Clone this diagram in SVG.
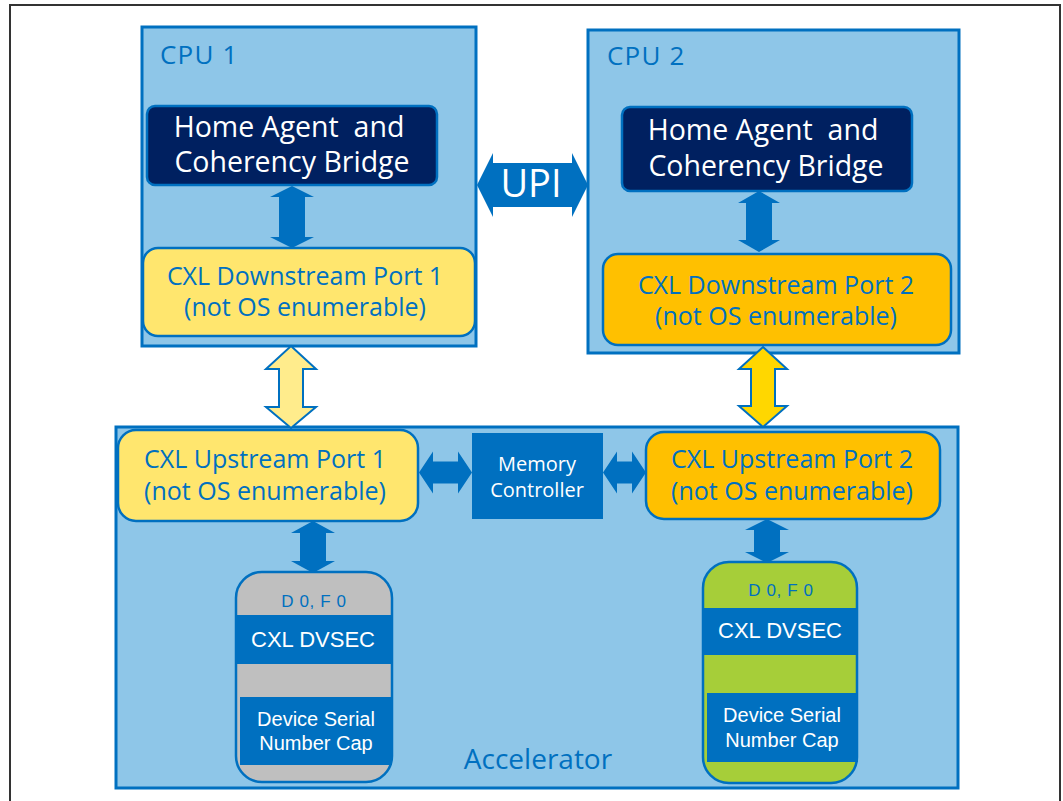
<svg xmlns="http://www.w3.org/2000/svg" width="1063" height="801" viewBox="0 0 1063 801">
<style>
.frame{fill:none;stroke:#333;stroke-width:2}
.cpu{fill:#8EC6E8;stroke:#0070C0;stroke-width:3}
.ha{fill:#002060;stroke:#0070C0;stroke-width:2.5}
.port1{fill:#FFE66E;stroke:#0070C0;stroke-width:2.5}
.port2{fill:#FFC000;stroke:#0070C0;stroke-width:2.5}
.arrow{fill:#0070C0}
.ya1{fill:#FFEC8C;stroke:#0070C0;stroke-width:2}
.ya2{fill:#FFD700;stroke:#0070C0;stroke-width:2}
.lbl{font-family:"Open Sans","Noto Sans",sans-serif;fill:#0070C0}
.wt{font-family:"Open Sans","Noto Sans",sans-serif;fill:#fff}
.pt{font-size:25px;text-anchor:middle}
.ar{font-family:"Liberation Sans",Arial,sans-serif}
.band{fill:#0070C0}
.devs{fill:none;stroke:#0070C0;stroke-width:2.5}
</style>
<defs>
<clipPath id="c1"><rect x="236" y="572" width="156" height="210" rx="26"/></clipPath>
<clipPath id="c2"><rect x="703" y="562" width="154" height="221" rx="26"/></clipPath>
</defs>
<g id="frame">
<polyline class="frame" points="10,801 10,5 1060,5 1060,801"/>
</g>
<g id="cpu1">
<rect class="cpu" x="142" y="27" width="334" height="319"/>
<text class="lbl" x="160" y="64" font-size="26" letter-spacing="1.2">CPU 1</text>
</g>
<g id="cpu2">
<rect class="cpu" x="588" y="30" width="371" height="323"/>
<text class="lbl" x="607" y="65" font-size="26" letter-spacing="1.2">CPU 2</text>
</g>
<g id="accelerator">
<rect class="cpu" x="116" y="427" width="842" height="361"/>
<text class="lbl" x="538" y="769" font-size="28" text-anchor="middle">Accelerator</text>
</g>
<g id="ha1">
<rect class="ha" x="147" y="106" width="290" height="79" rx="8"/>
<text class="wt" x="289" y="137" font-size="28.5" text-anchor="middle" xml:space="preserve">Home Agent  and</text>
<text class="wt" x="292" y="172" font-size="28.5" text-anchor="middle">Coherency Bridge</text>
</g>
<g id="ha2">
<rect class="ha" x="622" y="107" width="290" height="84" rx="8"/>
<text class="wt" x="763" y="140" font-size="28.5" text-anchor="middle" xml:space="preserve">Home Agent  and</text>
<text class="wt" x="766" y="176" font-size="28.5" text-anchor="middle">Coherency Bridge</text>
</g>
<g id="dsp1">
<rect class="port1" x="143" y="248" width="332" height="88" rx="15"/>
<text class="lbl pt" x="305" y="285">CXL Downstream Port 1</text>
<text class="lbl pt" x="305" y="316">(not OS enumerable)</text>
</g>
<g id="dsp2">
<rect class="port2" x="603" y="254" width="348" height="91" rx="15"/>
<text class="lbl pt" x="776" y="294">CXL Downstream Port 2</text>
<text class="lbl pt" x="776" y="325">(not OS enumerable)</text>
</g>
<g id="usp1">
<rect class="port1" x="118" y="430" width="300" height="91" rx="18"/>
<text class="lbl pt" x="265" y="468">CXL Upstream Port 1</text>
<text class="lbl pt" x="265" y="500">(not OS enumerable)</text>
</g>
<g id="usp2">
<rect class="port2" x="646" y="432" width="294" height="87" rx="18"/>
<text class="lbl pt" x="792" y="468">CXL Upstream Port 2</text>
<text class="lbl pt" x="792" y="500">(not OS enumerable)</text>
</g>
<g id="memctrl">
<rect fill="#0070C0" x="472" y="433" width="131" height="86"/>
<text class="wt" x="537" y="471" font-size="20" text-anchor="middle">Memory</text>
<text class="wt" x="537" y="497" font-size="20" text-anchor="middle">Controller</text>
</g>
<g id="dev1">
<g clip-path="url(#c1)">
<rect fill="#BFBFBF" x="236" y="572" width="156" height="210"/>
<rect class="band" x="236" y="615" width="156" height="49"/>
</g>
<rect class="devs" x="236" y="572" width="156" height="210" rx="26"/>
<rect class="band" x="240" y="697" width="152" height="68"/>
<text class="ar" fill="#0070C0" x="314" y="607" font-size="17" text-anchor="middle" letter-spacing="0.6" xml:space="preserve">D 0, F 0</text>
<text class="ar" fill="#fff" x="313" y="647" font-size="22" text-anchor="middle">CXL DVSEC</text>
<text class="ar" fill="#fff" x="316" y="726" font-size="20" text-anchor="middle">Device Serial</text>
<text class="ar" fill="#fff" x="316" y="750" font-size="20" text-anchor="middle">Number Cap</text>
</g>
<g id="dev2">
<g clip-path="url(#c2)">
<rect fill="#A6CE39" x="703" y="562" width="154" height="221"/>
<rect class="band" x="703" y="608" width="154" height="47"/>
</g>
<rect class="devs" x="703" y="562" width="154" height="221" rx="26"/>
<rect class="band" x="707" y="693" width="151" height="69"/>
<text class="ar" fill="#0070C0" x="781" y="596" font-size="17" text-anchor="middle" letter-spacing="0.6" xml:space="preserve">D 0, F 0</text>
<text class="ar" fill="#fff" x="780" y="638" font-size="22" text-anchor="middle">CXL DVSEC</text>
<text class="ar" fill="#fff" x="782" y="722" font-size="20" text-anchor="middle">Device Serial</text>
<text class="ar" fill="#fff" x="782" y="747" font-size="20" text-anchor="middle">Number Cap</text>
</g>
<g id="connectors">
<polygon class="arrow" points="292,186 314,197 305,197 305,237 314,237 292,248 270,237 279,237 279,197 270,197"/>
<polygon class="arrow" points="759,191 780,203 772,203 772,240 780,240 759,252 738,240 746,240 746,203 738,203"/>
<polygon class="arrow" points="477,185 493,153 493,163 572,163 572,153 588,185 572,217 572,207 493,207 493,217"/>
<text class="wt" x="531" y="197" font-size="38" text-anchor="middle">UPI</text>
<polygon class="ya1" points="291,346 316,369 303,369 303,407 316,407 291,428 266,407 279,407 279,369 266,369"/>
<polygon class="ya2" points="763,347 787,369 775,369 775,406 787,406 763,427 739,406 751,406 751,369 739,369"/>
<polygon class="arrow" points="419,472.5 433,451.5 433,461.5 458,461.5 458,451.5 472,472.5 458,493.5 458,483.5 433,483.5 433,493.5"/>
<polygon class="arrow" points="603,472.5 617,451.5 617,461.5 632,461.5 632,451.5 646,472.5 632,493.5 632,483.5 617,483.5 617,493.5"/>
<polygon class="arrow" points="313,521 335,533 326,533 326,561 335,561 313,573 291,561 300,561 300,533 291,533"/>
<polygon class="arrow" points="767,519 789,530 780,530 780,552 789,552 767,563 745,552 754,552 754,530 745,530"/>
</g>
</svg>
